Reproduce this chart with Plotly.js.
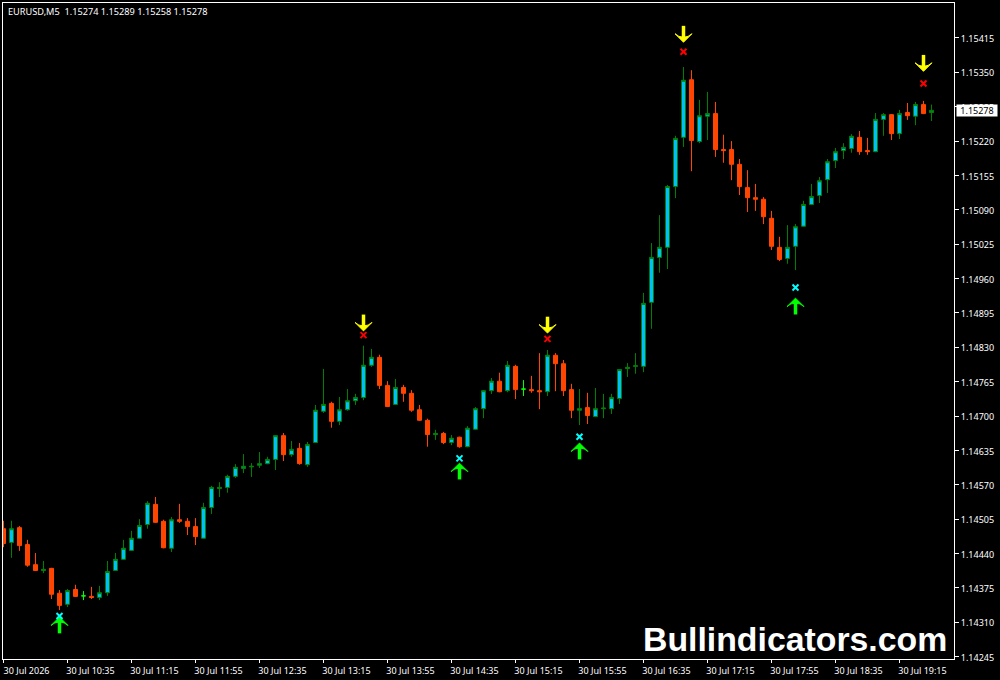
<!DOCTYPE html>
<html><head><meta charset="utf-8">
<script src="https://cdn.plot.ly/plotly-3.0.1.min.js"></script>
<style>html,body{margin:0;padding:0;background:#000}#c{width:1000px;height:680px}</style>
</head><body><div id="c"></div>
<script>
const open=[1.14487,1.14461,1.14489,1.14457,1.14419,1.14408,1.14412,1.14365,1.14344,1.14372,
1.14360,1.14359,1.14357,1.14366,1.14408,1.14429,1.14446,1.14469,1.14495,1.14533,
1.14501,1.14450,1.14504,1.14501,1.14491,1.14469,1.14527,1.14563,1.14565,1.14586,
1.14601,1.14604,1.14607,1.14610,1.14618,1.14663,1.14627,1.14639,1.14608,1.14650,
1.14709,1.14724,1.14690,1.14712,1.14729,1.14735,1.14796,1.14811,1.14758,1.14722,
1.14754,1.14743,1.14712,1.14692,1.14665,1.14667,1.14650,1.14660,1.14642,1.14675,
1.14714,1.14748,1.14766,1.14748,1.14794,1.14751,1.14750,1.14748,1.14746,1.14815,
1.14799,1.14750,1.14711,1.14716,1.14699,1.14714,1.14714,1.14733,1.14790,1.14794,
1.14794,1.14915,1.15000,1.15019,1.15134,1.15227,1.15336,1.15219,1.15267,1.15272,
1.15204,1.15204,1.15176,1.15132,1.15113,1.15110,1.15074,1.15019,1.14998,1.15021,
1.15059,1.15100,1.15117,1.15147,1.15183,1.15202,1.15206,1.15227,1.15202,1.15200,
1.15261,1.15270,1.15234,1.15274,1.15267,1.15289,1.15274];
const high=[1.14502,1.14502,1.14492,1.14466,1.14441,1.14426,1.14413,1.14371,1.14373,1.14381,
1.14369,1.14377,1.14379,1.14426,1.14441,1.14466,1.14483,1.14505,1.14539,1.14547,
1.14504,1.14509,1.14534,1.14507,1.14507,1.14536,1.14568,1.14575,1.14589,1.14609,
1.14628,1.14611,1.14632,1.14623,1.14664,1.14668,1.14653,1.14649,1.14651,1.14721,
1.14789,1.14727,1.14736,1.14751,1.14742,1.14833,1.14827,1.14816,1.14766,1.14770,
1.14759,1.14749,1.14721,1.14695,1.14674,1.14670,1.14664,1.14661,1.14681,1.14717,
1.14749,1.14772,1.14782,1.14804,1.14797,1.14768,1.14776,1.14819,1.14825,1.14819,
1.14806,1.14761,1.14751,1.14744,1.14753,1.14742,1.14742,1.14789,1.14800,1.14819,
1.14933,1.15027,1.15080,1.15137,1.15230,1.15360,1.15354,1.15298,1.15313,1.15294,
1.15232,1.15220,1.15186,1.15165,1.15139,1.15114,1.15088,1.15039,1.15061,1.15063,
1.15107,1.15139,1.15152,1.15186,1.15207,1.15216,1.15233,1.15239,1.15226,1.15273,
1.15273,1.15271,1.15279,1.15292,1.15294,1.15296,1.15289];
const low=[1.14452,1.14432,1.14445,1.14415,1.14407,1.14403,1.14354,1.14333,1.14339,1.14358,
1.14352,1.14354,1.14352,1.14360,1.14407,1.14428,1.14445,1.14468,1.14487,1.14498,
1.14450,1.14443,1.14498,1.14475,1.14456,1.14468,1.14515,1.14547,1.14555,1.14583,
1.14592,1.14585,1.14602,1.14609,1.14598,1.14615,1.14623,1.14608,1.14604,1.14649,
1.14706,1.14678,1.14683,1.14710,1.14721,1.14730,1.14793,1.14751,1.14717,1.14721,
1.14727,1.14708,1.14691,1.14642,1.14655,1.14647,1.14645,1.14640,1.14641,1.14674,
1.14696,1.14742,1.14745,1.14745,1.14732,1.14738,1.14744,1.14713,1.14738,1.14747,
1.14738,1.14696,1.14683,1.14685,1.14698,1.14696,1.14704,1.14723,1.14774,1.14780,
1.14783,1.14865,1.14971,1.14978,1.15112,1.15209,1.15163,1.15216,1.15222,1.15190,
1.15179,1.15146,1.15118,1.15086,1.15088,1.15063,1.15014,1.14993,1.14988,1.14976,
1.15058,1.15099,1.15103,1.15122,1.15169,1.15186,1.15198,1.15194,1.15194,1.15199,
1.15230,1.15222,1.15224,1.15260,1.15250,1.15271,1.15258];
const close=[1.14459,1.14487,1.14455,1.14418,1.14408,1.14410,1.14363,1.14342,1.14370,1.14359,
1.14360,1.14357,1.14366,1.14406,1.14429,1.14450,1.14469,1.14493,1.14535,1.14499,
1.14451,1.14504,1.14501,1.14491,1.14472,1.14527,1.14565,1.14565,1.14586,1.14603,
1.14605,1.14605,1.14610,1.14618,1.14663,1.14627,1.14637,1.14610,1.14646,1.14711,
1.14722,1.14690,1.14712,1.14729,1.14735,1.14796,1.14811,1.14758,1.14718,1.14754,
1.14743,1.14711,1.14692,1.14665,1.14667,1.14650,1.14658,1.14642,1.14677,1.14714,
1.14748,1.14766,1.14746,1.14796,1.14750,1.14751,1.14748,1.14746,1.14815,1.14799,
1.14748,1.14711,1.14714,1.14701,1.14714,1.14715,1.14735,1.14788,1.14792,1.14795,
1.14913,1.15000,1.15019,1.15134,1.15225,1.15335,1.15221,1.15268,1.15272,1.15204,
1.15202,1.15176,1.15134,1.15113,1.15110,1.15077,1.15021,1.14996,1.15019,1.15058,
1.15100,1.15115,1.15145,1.15181,1.15200,1.15208,1.15229,1.15200,1.15200,1.15261,
1.15270,1.15234,1.15272,1.15268,1.15289,1.15272,1.15278];

const xTickIndex=[0,8,16,24,32,40,48,56,64,72,80,88,96,104,112];
const xTickLabels=["30 Jul 2026","30 Jul 10:35","30 Jul 11:15","30 Jul 11:55","30 Jul 12:35","30 Jul 13:15","30 Jul 13:55","30 Jul 14:35","30 Jul 15:15","30 Jul 15:55","30 Jul 16:35","30 Jul 17:15","30 Jul 17:55","30 Jul 18:35","30 Jul 19:15"];
const yTickValues=[1.15415,1.15350,1.15285,1.15220,1.15155,1.15090,1.15025,1.14960,1.14895,1.14830,1.14765,1.14700,1.14635,1.14570,1.14505,1.14440,1.14375,1.14310,1.14245];

const sellIndex=[45,68,85,115];
const sellCross=[1.14853,1.14846,1.15389,1.15329];
const sellArrowTip=[1.14861,1.14857,1.15407,1.15352];
const sellArrowStem=[1.14880,1.14876,1.15426,1.15371];
const buyIndex=[7,57,72,99];
const buyCross=[1.14322,1.14620,1.14661,1.14943];
const buyArrowTip=[1.14320,1.14611,1.14649,1.14923];
const buyArrowStem=[1.14301,1.14592,1.14630,1.14904];

const lastPrice=1.15278;
const header="EURUSD,M5\u00a0\u00a01.15274 1.15289 1.15258 1.15278";
const watermark="Bullindicators.com";

const idx=open.map((_,i)=>i);
function subset(test){
  const keep=idx.filter(i=>test(open[i],close[i]));
  return {x:keep,open:keep.map(i=>open[i]),high:keep.map(i=>high[i]),low:keep.map(i=>low[i]),close:keep.map(i=>close[i])};
}
function candles(d,line,fill){
  return Object.assign({type:'candlestick',hoverinfo:'skip',showlegend:false,
    increasing:{line:{color:line,width:1},fillcolor:fill},
    decreasing:{line:{color:line,width:1},fillcolor:fill}},d);
}
function marks(x,y,symbol,size,color,extra){
  const m=Object.assign({symbol:symbol,size:size,color:color,line:{width:0,color:color}},extra||{});
  return {type:'scatter',mode:'markers',x:x,y:y,marker:m,hoverinfo:'skip',showlegend:false,cliponaxis:true};
}
const lime='#00FF00',yellow='#FFFF00',cyan='#00FFFF',red='#FF0000';
const data=[
  candles(subset((o,c)=>c>o),'#008000','#00BFFF'),
  candles(subset((o,c)=>c<o),'#FF4500','#FF4500'),
  candles(subset((o,c)=>c===o),'#00FF00','#00FF00'),
  marks(sellIndex,sellArrowStem,'line-ns',9,yellow,{line:{width:3.5,color:yellow}}),
  marks(sellIndex,sellArrowTip,'arrow-wide',12,yellow,{angle:180,line:{width:1,color:yellow}}),
  marks(sellIndex,sellCross,'x-thin',6,red,{line:{width:2,color:red}}),
  marks(buyIndex,buyArrowStem,'line-ns',9,lime,{line:{width:3.5,color:lime}}),
  marks(buyIndex,buyArrowTip,'arrow-wide',12,lime,{line:{width:1,color:lime}}),
  marks(buyIndex,buyCross,'x-thin',6,cyan,{line:{width:2,color:cyan}})
];
const font={family:'"Noto Sans",sans-serif',size:9,color:'#FFFFFF'};
const layout={
  width:1000,height:680,paper_bgcolor:'#000000',plot_bgcolor:'#000000',showlegend:false,
  margin:{l:3,r:46,t:3,b:21,pad:0},boxgap:0.5,boxgroupgap:0,boxmode:'overlay',font:font,dragmode:false,
  xaxis:{type:'linear',range:[-0.0625,118.8125],rangeslider:{visible:false},tickmode:'array',
    tickvals:xTickIndex,ticktext:xTickLabels,tickfont:font,ticks:'outside',ticklen:3,tickwidth:1,
    tickcolor:'#FFFFFF',showgrid:false,zeroline:false,showline:true,linecolor:'#FFFFFF',linewidth:1,
    mirror:true,ticklabelshift:23,ticklabelstandoff:0,tickangle:0,fixedrange:true},
  yaxis:{type:'linear',side:'right',range:[1.142406,1.154811],tickmode:'array',
    tickvals:yTickValues,ticktext:yTickValues.map(v=>v.toFixed(5)),tickfont:font,ticks:'outside',ticklen:4,
    tickwidth:1,tickcolor:'#FFFFFF',showgrid:false,zeroline:false,showline:true,linecolor:'#FFFFFF',
    linewidth:1,mirror:true,fixedrange:true,ticklabelshift:1},
  annotations:[
    {xref:'paper',yref:'paper',x:0.0035,y:0.9995,xanchor:'left',yanchor:'top',text:header,showarrow:false,
     font:{family:'"Noto Sans",sans-serif',size:9.2,color:'#FFFFFF'}},
    {xref:'paper',yref:'paper',x:0.995,y:-0.001,xanchor:'right',yanchor:'bottom',text:watermark,showarrow:false,
     font:{family:'"Liberation Sans",sans-serif',size:33.8,color:'#FFFFFF',weight:700}},
    {xref:'paper',yref:'y',x:1.002,y:lastPrice,xanchor:'left',yanchor:'middle',text:lastPrice.toFixed(5),showarrow:false,
     bgcolor:'#FFFFFF',borderpad:0,width:40,height:11,align:'center',font:{family:'"Noto Sans",sans-serif',size:9,color:'#000000'}}
  ]
};
Plotly.newPlot('c',data,layout,{displayModeBar:false,staticPlot:true});
</script></body></html>
